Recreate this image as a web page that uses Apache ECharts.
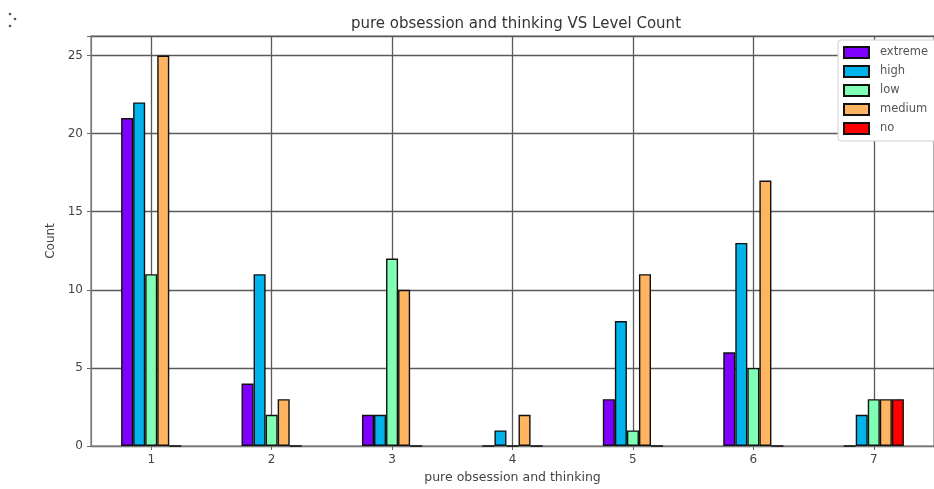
<!DOCTYPE html>
<html>
<head>
<meta charset="utf-8">
<script src="https://cdn.jsdelivr.net/npm/echarts@6/dist/echarts.min.js"></script>
<style>
  html, body { margin: 0; padding: 0; background: #ffffff; overflow: hidden; }
  #chart { width: 934px; height: 489px; }
</style>
</head>
<body>
<div id="chart"></div>
<script>
// Level counts per score of "pure obsession and thinking"
const categories = ['1', '2', '3', '4', '5', '6', '7'];
const levelNames = ['extreme', 'high', 'low', 'medium', 'no'];
const extreme = [21, 4, 2, 0, 3, 6, 0];
const high    = [22, 11, 2, 1, 8, 13, 2];
const low     = [11, 2, 12, 0, 1, 5, 3];
const medium  = [25, 3, 10, 2, 11, 17, 3];
const no      = [0, 0, 0, 0, 0, 0, 3];
const yTicks  = [0, 5, 10, 15, 20, 25];

// rainbow colormap sampled at 0, .25, .5, .75, 1
const levelColors = ['#8000ff', '#00b4eb', '#80ffb4', '#ffb462', '#ff0000'];
const levelValues = [extreme, high, low, medium, no];

const FONT = 'DejaVu Sans';
const GRID_COLOR = '#5a5a5a';

const chart = echarts.init(document.getElementById('chart'), null, { renderer: 'canvas' });

const series = levelNames.map((name, i) => ({
  name: name,
  type: 'bar',
  data: levelValues[i],
  barGap: '0%',
  barCategoryGap: '50%',
  z: 3,
  itemStyle: {
    color: levelColors[i],
    borderColor: '#111',
    borderWidth: 1.4
  },
  emphasis: { disabled: true }
}));

// empty helper series carrying the vertical grid lines at category centres
series.push({
  name: 'xgrid',
  type: 'line',
  data: categories.map(() => null),
  symbol: 'none',
  silent: true,
  z: 1,
  markLine: {
    silent: true,
    symbol: 'none',
    z: 1,
    label: { show: false },
    lineStyle: { color: GRID_COLOR, width: 1.3, type: 'solid' },
    data: categories.map(c => ({ xAxis: c }))
  }
});

chart.setOption({
  animation: false,
  backgroundColor: '#ffffff',
  textStyle: { fontFamily: FONT },
  grid: {
    left: 91, top: 36, bottom: 39, right: -7,
    show: true, borderColor: '#777', borderWidth: 1.2,
    containLabel: false
  },
  legend: {
    data: levelNames,
    orient: 'vertical',
    left: 838, top: 40,
    icon: 'rect',
    itemWidth: 25, itemHeight: 11, itemGap: 6,
    padding: [6, 12, 6, 5],
    backgroundColor: '#ffffff',
    borderColor: '#d0d0d0', borderWidth: 1, borderRadius: 3,
    textStyle: { fontFamily: FONT, fontSize: 11.5, color: '#555', lineHeight: 13, padding: [0, 0, 0, 6] },
    selectedMode: false
  },
  graphic: [
    {
      type: 'text', x: 516, y: 24,
      style: {
        text: 'pure obsession and thinking VS Level Count',
        fontFamily: FONT, fontSize: 15, fill: '#333',
        align: 'center', verticalAlign: 'middle'
      }
    },
    { type: 'circle', shape: { cx: 10, cy: 14, r: 1.3 }, style: { fill: '#555' } },
    { type: 'circle', shape: { cx: 15, cy: 19, r: 1.3 }, style: { fill: '#555' } },
    { type: 'circle', shape: { cx: 10, cy: 26, r: 1.3 }, style: { fill: '#555' } }
  ],
  xAxis: {
    type: 'category',
    data: categories,
    name: 'pure obsession and thinking',
    nameLocation: 'middle',
    nameGap: 25,
    nameTextStyle: { fontFamily: FONT, fontSize: 12.5, color: '#444' },
    axisLine: { show: true, lineStyle: { color: '#777', width: 1.2 } },
    axisTick: { show: true, alignWithLabel: true, length: 4, lineStyle: { color: '#666' } },
    axisLabel: { fontFamily: FONT, fontSize: 12, color: '#444', margin: 8 },
    splitLine: { show: false }
  },
  yAxis: {
    type: 'value',
    min: 0, max: 26.25, interval: 5,
    name: 'Count',
    nameLocation: 'middle',
    nameGap: 31,
    nameRotate: 90,
    nameTextStyle: { fontFamily: FONT, fontSize: 12, color: '#444' },
    axisLine: { show: true, lineStyle: { color: '#777', width: 1.2 } },
    axisTick: { show: true, length: 4, lineStyle: { color: '#666' } },
    axisLabel: {
      fontFamily: FONT, fontSize: 12, color: '#444', margin: 8,
      formatter: v => (yTicks.indexOf(v) >= 0 ? String(v) : '')
    },
    splitLine: { show: true, lineStyle: { color: GRID_COLOR, width: 1.3 } }
  },
  series: series
});
</script>
</body>
</html>
